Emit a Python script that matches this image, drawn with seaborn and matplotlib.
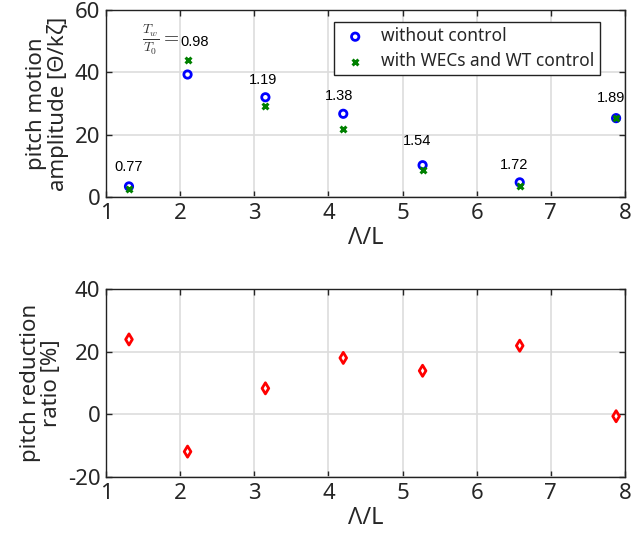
import matplotlib
matplotlib.use("Agg")
import matplotlib.pyplot as plt
import seaborn as sns
import pandas as pd

# wavelength / length ratio
lam_L = [1.31, 2.10, 3.15, 4.20, 5.27, 6.58, 7.88]
period_ratio = ["0.77", "0.98", "1.19", "1.38", "1.54", "1.72", "1.89"]
amp_no_ctrl = [3.4, 39.3, 32.0, 26.7, 10.2, 4.7, 25.3]
amp_ctrl = [2.5, 44.0, 29.1, 21.8, 8.75, 3.4, 25.5]
reduction = [23.9, -11.9, 8.3, 18.0, 13.9, 21.9, -0.6]

# label positions (data coords)
lbl_x = [1.31, 2.19, 3.12, 4.14, 5.19, 6.50, 7.81]
lbl_y = [9.6, 49.8, 37.7, 32.5, 18.1, 10.4, 31.7]

sns.set_style("whitegrid")
plt.rcParams["font.family"] = ["Noto Sans", "DejaVu Sans"]
plt.rcParams["mathtext.fontset"] = "cm"
plt.rcParams["axes.unicode_minus"] = False

fig = plt.figure(figsize=(6.35, 5.44), dpi=100)
ax1 = fig.add_axes([106 / 635, 1 - 197 / 544, 519 / 635, 187 / 544])
ax2 = fig.add_axes([106 / 635, 1 - 477 / 544, 519 / 635, 188 / 544])

df = pd.DataFrame({
    "x": lam_L * 2,
    "amp": amp_no_ctrl + amp_ctrl,
    "case": ["without control"] * len(lam_L) + ["with WECs and WT control"] * len(lam_L),
})

sns.scatterplot(data=df[df.case == "without control"], x="x", y="amp", ax=ax1,
                marker="o", s=28, facecolor="none", edgecolor="#0000ff", linewidth=2,
                label="without control", zorder=3)
sns.scatterplot(data=df[df.case != "without control"], x="x", y="amp", ax=ax1,
                marker="x", s=18, color="#008000", linewidth=2.2,
                label="with WECs and WT control", zorder=3)

for x, y, t in zip(lbl_x, lbl_y, period_ratio):
    ax1.text(x, y, t, ha="center", va="center", fontsize=10.5,
             family="Liberation Sans", color="black")
ax1.text(1.99, 50.3, r"$\frac{T_w}{T_0}=$", ha="right", va="center",
         fontsize=14, color="#333333")

sns.scatterplot(x=lam_L, y=reduction, ax=ax2, marker="d", s=32,
                facecolor="none", edgecolor="#ff0000", linewidth=2, zorder=3)

for ax, ylim, yt, ylab in [
    (ax1, (0, 60), [0, 20, 40, 60], "pitch motion\namplitude [Θ/kζ]"),
    (ax2, (-20, 40), [-20, 0, 20, 40], "pitch reduction\nratio [%]"),
]:
    ax.set_xlim(1, 8)
    ax.set_ylim(*ylim)
    ax.set_xticks(range(1, 9))
    ax.set_yticks(yt)
    ax.grid(True, color="#dddddd", linewidth=1.2)
    for s in ax.spines.values():
        s.set_visible(True)
        s.set_color("#222222")
        s.set_linewidth(1.0)
    ax.tick_params(direction="in", length=4, width=1, colors="#262626",
                   labelsize=16, top=True, right=True, left=True, bottom=True,
                   pad=4)
    ax.set_xlabel("Λ/L", fontsize=17, color="#262626", labelpad=2)
    ax.set_ylabel(ylab, fontsize=16, color="#262626", labelpad=4,
                  linespacing=1.0)

leg = ax1.legend(loc="upper right", bbox_to_anchor=(0.968, 0.982),
                 fontsize=12.5, frameon=True, fancybox=False, edgecolor="#222222",
                 framealpha=1, handletextpad=0.6, borderpad=0.3,
                 labelspacing=0.4, handlelength=1.8)
leg.get_frame().set_linewidth(1.0)

fig.savefig("out.png", dpi=100)
